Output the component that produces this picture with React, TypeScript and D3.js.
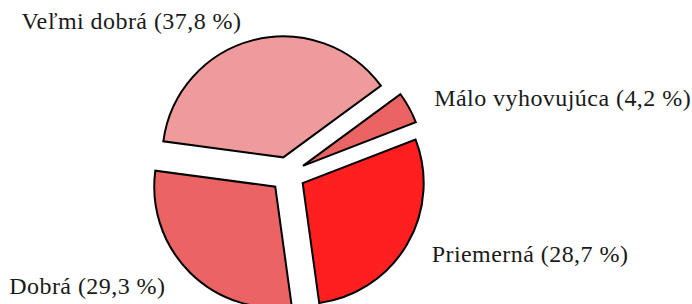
import React from 'react';
import * as d3 from 'd3';

// slice order, counter-clockwise
const categories = ['Veľmi dobrá', 'Dobrá', 'Priemerná', 'Málo vyhovujúca'];
const shares = [37.8, 29.3, 28.7, 4.2];
const colors = ['#f09b9b', '#eb6464', '#ff1f1f', '#eb6464'];
const shareLabels = ['37,8', '29,3', '28,7', '4,2'];

const width = 692;
const height = 304;
const cx = 287.6;
const cy = 174.3;
const radius = 121;
const explode = 17.5;
const labelDist = 166;
const startDeg = 36.3; // math angle where the first slice begins

const App: React.FC = () => {
  const toRad = (deg: number) => (deg * Math.PI) / 180;
  // d3 angles: 0 at north, clockwise. Counter-clockwise => negative sweep
  const a0 = toRad(90 - startDeg);
  const pie = d3
    .pie<number>()
    .sort(null)
    .value((d) => d)
    .startAngle(a0)
    .endAngle(a0 - 2 * Math.PI);
  const arcs = pie(shares);

  const arc = d3
    .arc<d3.PieArcDatum<number>>()
    .innerRadius(0)
    .outerRadius(radius);

  return (
    <>
      <style>{'body{margin:0} .lbl{font-family: "Liberation Serif", "Times New Roman", serif; font-size: 24px; letter-spacing: 0.45px;}'}</style>
      <svg width={width} height={height} style={{ display: 'block', overflow: 'hidden' }}>
        <rect width={width} height={height} fill="#fff" />
        <g transform={`translate(${cx},${cy})`}>
          {arcs.map((a, i) => {
            const mid = (a.startAngle + a.endAngle) / 2;
            const dx = Math.sin(mid) * explode;
            const dy = -Math.cos(mid) * explode;
            return (
              <path
                key={categories[i]}
                d={arc(a) || ''}
                transform={`translate(${dx},${dy})`}
                fill={colors[i]}
                stroke="#000"
                strokeWidth={2}
                strokeLinejoin="miter"
              />
            );
          })}
          {arcs.map((a, i) => {
            const mid = (a.startAngle + a.endAngle) / 2;
            const s = Math.sin(mid);
            const c = Math.cos(mid); // math sin
            const x = s * labelDist + (s < 0 ? -5 : 1);
            const y = -c * labelDist + 8 * c;
            return (
              <text
                key={'l' + categories[i]}
                className="lbl"
                x={x}
                y={y}
                textAnchor={s < 0 ? 'end' : 'start'}
                dominantBaseline="central"
                fill="#1a1a1a"
              >
                {`${categories[i]} (${shareLabels[i]} %)`}
              </text>
            );
          })}
        </g>
      </svg>
    </>
  );
};

export default App;
